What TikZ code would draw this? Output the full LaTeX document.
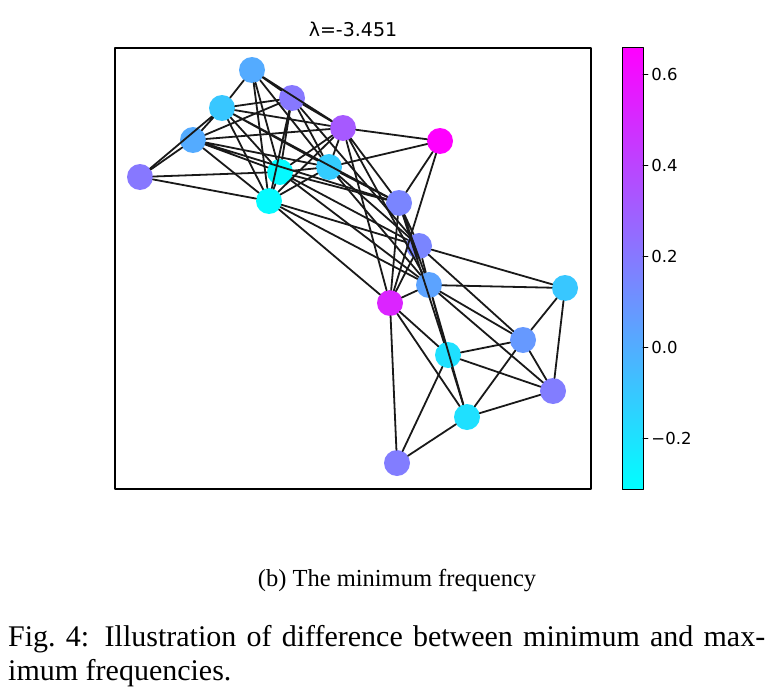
\documentclass[tikz,border=0pt]{standalone}
\usepackage{fontspec}
\setmainfont{Liberation Serif}
\newfontfamily\plotfont{DejaVu Sans}
\usepackage{tikz}
\usetikzlibrary{arrows}
\definecolor{cool02}{rgb}{0.02,0.98,1.}
\definecolor{cool12}{rgb}{0.12,0.88,1.}
\definecolor{cool20}{rgb}{0.20,0.80,1.}
\definecolor{cool22}{rgb}{0.22,0.78,1.}
\definecolor{cool33}{rgb}{0.33,0.67,1.}
\definecolor{cool36}{rgb}{0.36,0.64,1.}
\definecolor{cool40}{rgb}{0.40,0.60,1.}
\definecolor{cool48}{rgb}{0.48,0.52,1.}
\definecolor{cool51}{rgb}{0.51,0.49,1.}
\definecolor{cool53}{rgb}{0.53,0.47,1.}
\definecolor{cool65}{rgb}{0.65,0.35,1.}
\definecolor{cool86}{rgb}{0.86,0.14,1.}
\definecolor{coolmin}{rgb}{0.,1.,1.}
\definecolor{coolmax}{rgb}{1.,0.,1.}

\begin{document}
\begin{tikzpicture}[line cap=round,line join=round,x=1pt,y=-1pt,
  vtx/.style={circle,inner sep=0pt,minimum size=26pt},
  edge/.style={line width=1.8pt,color=black!90},
  ticklab/.style={anchor=west,inner sep=0pt,font=\plotfont\fontsize{16.5}{19}\selectfont}]
\useasboundingbox (0,0) rectangle (772,688);
\draw [line width=1.2pt] (115,48) rectangle (591,489);
\node [anchor=base,inner sep=0pt,font=\plotfont\fontsize{19}{22}\selectfont] (title) at (353,36) {λ=-3.451};
% graph nodes
\node [vtx,fill=cool33] (a) at (252,70) {};
\node [vtx,fill=cool53] (b) at (292,98) {};
\node [vtx,fill=cool22] (c) at (222,108) {};
\node [vtx,fill=cool65] (d) at (343,128) {};
\node [vtx,fill=coolmax] (e) at (440,141) {};
\node [vtx,fill=cool33] (f) at (193,140) {};
\node [vtx,fill=cool53] (g) at (140,177) {};
\node [vtx,fill=cool02] (h) at (280,172) {};
\node [vtx,fill=cool20] (i) at (329,167) {};
\node [vtx,fill=cool02] (j) at (269,201) {};
\node [vtx,fill=cool48] (k) at (399,203) {};
\node [vtx,fill=cool48] (l) at (419,246) {};
\node [vtx,fill=cool36] (m) at (429,285) {};
\node [vtx,fill=cool86] (n) at (390,303) {};
\node [vtx,fill=cool22] (o) at (565,288) {};
\node [vtx,fill=cool40] (p) at (523,340) {};
\node [vtx,fill=cool12] (q) at (448,355) {};
\node [vtx,fill=cool51] (r) at (553,391) {};
\node [vtx,fill=cool12] (s) at (467,417) {};
\node [vtx,fill=cool51] (t) at (397,463) {};
% edges
\draw [edge] (a) -- (c) (a) -- (b) (a) -- (d) (a) -- (h) (a) -- (j) (a) -- (i);
\draw [edge] (b) -- (c) (b) -- (f) (b) -- (h) (b) -- (j) (b) -- (i) (b) -- (d) (b) -- (l);
\draw [edge] (c) -- (f) (c) -- (g) (c) -- (d) (c) -- (h) (c) -- (j) (c) -- (i) (c) -- (k);
\draw [edge] (d) -- (e) (d) -- (f) (d) -- (h) (d) -- (j) (d) -- (i) (d) -- (k) (d) -- (m) (d) -- (n);
\draw [edge] (e) -- (i) (e) -- (k) (e) -- (n);
\draw [edge] (f) -- (g) (f) -- (h) (f) -- (j) (f) -- (i) (f) -- (k);
\draw [edge] (g) -- (h) (g) -- (j);
\draw [edge] (h) -- (i) (h) -- (j) (h) -- (k) (h) -- (l) (h) -- (m);
\draw [edge] (i) -- (j) (i) -- (k) (i) -- (l) (i) -- (m);
\draw [edge] (j) -- (l) (j) -- (m) (j) -- (n);
\draw [edge] (k) -- (l) (k) -- (m) (k) -- (n) (k) -- (q);
\draw [edge] (l) -- (m) (l) -- (n) (l) -- (o) (l) -- (p);
\draw [edge] (m) -- (n) (m) -- (o) (m) -- (p) (m) -- (q) (m) -- (r) (m) -- (s);
\draw [edge] (n) -- (q) (n) -- (s) (n) -- (t);
\draw [edge] (o) -- (p) (o) -- (r);
\draw [edge] (p) -- (q) (p) -- (r) (p) -- (s);
\draw [edge] (q) -- (r) (q) -- (s) (q) -- (t);
\draw [edge] (r) -- (s) (s) -- (t);
% colour bar
\shade [bottom color=coolmin,top color=coolmax] (622,47) rectangle (643,489);
\draw [line width=1pt] (622,47) rectangle (643,489);
\draw [line width=0.9pt] (643,74) -- (648,74) node [ticklab,xshift=3pt] (t06) {0.6};
\draw [line width=0.9pt] (643,165) -- (648,165) node [ticklab,xshift=3pt] (t04) {0.4};
\draw [line width=0.9pt] (643,256) -- (648,256) node [ticklab,xshift=3pt] (t02) {0.2};
\draw [line width=0.9pt] (643,347) -- (648,347) node [ticklab,xshift=3pt] (t00) {0.0};
\draw [line width=0.9pt] (643,438) -- (648,438) node [ticklab,xshift=3pt] (tm02) {−0.2};
% captions
\node [anchor=base,inner sep=0pt,font=\fontsize{24.5}{29}\selectfont] (sub) at (397,586) {(b) The minimum frequency};
\node [anchor=base west,inner sep=0pt,text width=757pt,align=justify,font=\fontsize{30}{34}\selectfont] (cap) at (8,646)
  {Fig.~4: Illustration of difference between minimum and max-\linebreak imum frequencies.};
\end{tikzpicture}
\end{document}
